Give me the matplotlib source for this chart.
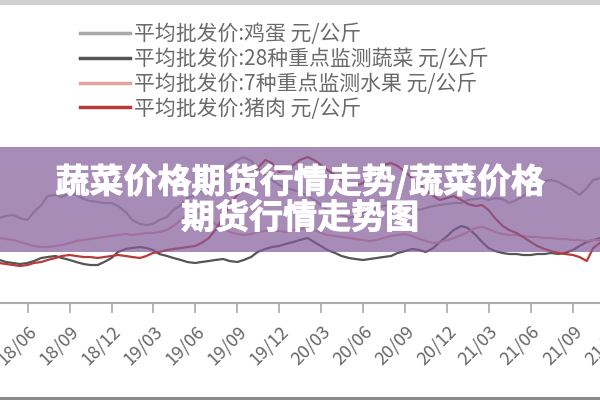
import matplotlib
matplotlib.use('Agg')
import matplotlib.pyplot as plt
import matplotlib.dates as mdates
import matplotlib.patheffects as pe
import pandas as pd
from matplotlib.patches import Rectangle

plt.rcParams['font.family'] = ['Noto Sans CJK SC', 'DejaVu Sans']

dates = pd.date_range('2018-04-01', periods=88, freq='SMS')

egg = [85, 87, 88, 85, 83, 91, 98, 107, 108, 106, 110, 108, 104, 102, 101, 100, 100, 97,
       91, 83, 79, 78, 79, 83, 86, 93, 98, 105, 108, 113, 116, 123, 131, 138, 143, 146, 142, 135, 128, 123, 118, 115,
       113, 111, 107, 103, 98, 93, 91, 88, 85, 87, 90, 93, 95, 97, 98, 100, 102, 98, 93, 95, 97, 98, 99, 100,
       100, 103, 104, 105, 103, 105, 104, 100, 103, 107, 111, 118, 122, 123, 121, 117, 113, 108, 115, 123, 125, 126]

veg = [43, 41, 40, 39, 40, 42, 45, 46, 47, 45, 43, 41, 39, 38, 38, 41, 45, 51,
       54, 55, 56, 55, 53, 49, 47, 45, 43, 41, 40, 41, 42, 43, 44, 42, 41, 43, 46, 51, 54, 56, 57, 59,
       61, 63, 65, 61, 57, 53, 50, 47, 45, 44, 43, 44, 45, 46, 47, 50, 52, 54, 53, 51, 55, 61, 67, 73,
       77, 75, 68, 61, 55, 52, 50, 49, 49, 48, 48, 49, 49, 50, 49, 50, 53, 57, 61, 63, 65, 66]

fruit = [65, 64, 63, 61, 59, 57, 56, 56, 57, 58, 60, 62, 63, 64, 65, 66, 67, 68,
         69, 68, 69, 70, 70, 71, 73, 77, 83, 89, 93, 91, 85, 79, 75, 71, 69, 68, 69, 71, 72, 73, 72, 71,
         73, 74, 75, 73, 70, 68, 67, 66, 65, 64, 63, 62, 63, 65, 67, 68, 69, 67, 64, 62, 60, 61, 63, 65,
         68, 71, 75, 76, 74, 71, 69, 68, 68, 67, 66, 66, 65, 65, 64, 64, 63, 63, 62, 63, 63, 62]

pork = [40, 39, 38, 37, 38, 40, 41, 43, 45, 47, 48, 47, 46, 46, 45, 46, 47, 48,
        47, 46, 45, 47, 50, 51, 53, 54, 55, 56, 57, 60, 65, 73, 85, 98, 108, 115, 125, 135, 143, 140, 131, 133,
        138, 143, 146, 143, 138, 133, 128, 123, 118, 117, 120, 125, 133, 138, 140, 137, 131, 125, 119, 113, 107, 103, 105, 107,
        103, 99, 97, 98, 93, 85, 77, 73, 70, 66, 61, 57, 54, 52, 50, 49, 48, 46, 42, 55, 61, 63]

labels = ['平均批发价:鸡蛋 元/公斤',
          '平均批发价:28种重点监测蔬菜 元/公斤',
          '平均批发价:7种重点监测水果 元/公斤',
          '平均批发价:猪肉 元/公斤']
colors = ['#a8a8a8', '#555555', '#e3a3a3', '#b83a3a']
title_lines = ['蔬菜价格期货行情走势/蔬菜价格', '期货行情走势图']

fig = plt.figure(figsize=(6, 4), dpi=100)
ax = fig.add_axes([-0.1, 0.2425, 1.2, 0.4325])

handles = []
for series, lab, col in zip([egg, veg, fruit, pork], labels, colors):
    h, = ax.plot(dates, series, color=col, lw=1.6, label=lab)
    handles.append(h)

# x range so that quarterly ticks fall at the reference pixel positions
t0 = mdates.date2num(pd.Timestamp('2018-06-01'))
t1 = mdates.date2num(pd.Timestamp('2021-09-01'))
dpp = (t1 - t0) / 545.5
ax.set_xlim(t0 - (27.5 + 60) * dpp, t1 + (660 - 573) * dpp)
ax.set_ylim(0, 173)

ax.xaxis.set_major_locator(mdates.MonthLocator(bymonth=[3, 6, 9, 12]))
ax.xaxis.set_major_formatter(mdates.DateFormatter('%y/%m'))
for s in ['top', 'left', 'right']:
    ax.spines[s].set_visible(False)
ax.spines['bottom'].set_color('#aaaaaa')
ax.spines['bottom'].set_linewidth(1.5)
ax.set_yticks([])
ax.tick_params(axis='x', length=7, width=1.2, color='#aaaaaa', labelcolor='#666666',
               labelsize=13, pad=7)
for lab in ax.get_xticklabels():
    lab.set_rotation(45)
    lab.set_ha('right')
    lab.set_rotation_mode('anchor')

leg = fig.legend(handles=handles, loc='upper left', bbox_to_anchor=(80 / 600, 1 - 23 / 400),
                 frameon=False, fontsize=15, handlelength=2.4, handletextpad=0.2,
                 labelspacing=0.14, borderpad=0, borderaxespad=0)
for t in leg.get_texts():
    t.set_color('#6a6a6a')
for l in leg.get_lines():
    l.set_linewidth(2.5)

# decorative frame bands
fig.add_artist(Rectangle((0, 1 - 5 / 400), 1, 5 / 400, transform=fig.transFigure,
                         facecolor='#d0d0d0', edgecolor='none', zorder=4))
fig.add_artist(Rectangle((0, 0), 1, 3 / 400, transform=fig.transFigure,
                         facecolor='#8a8a8a', edgecolor='none', zorder=4))

# purple title banner
fig.add_artist(Rectangle((0, 1 - 252 / 400), 1, 105 / 400, transform=fig.transFigure,
                         facecolor='#845c9a', edgecolor='none', alpha=0.7, zorder=5))
stroke = [pe.withStroke(linewidth=0.7, foreground='white')]
fig.text(0.5, 1 - 182 / 400, title_lines[0], ha='center', va='center', fontsize=24.5,
         fontweight='bold', color='white', zorder=6, path_effects=stroke)
fig.text(0.5, 1 - 218 / 400, title_lines[1], ha='center', va='center', fontsize=24.5,
         fontweight='bold', color='white', zorder=6, path_effects=stroke)

fig.savefig('out.png', dpi=100)
